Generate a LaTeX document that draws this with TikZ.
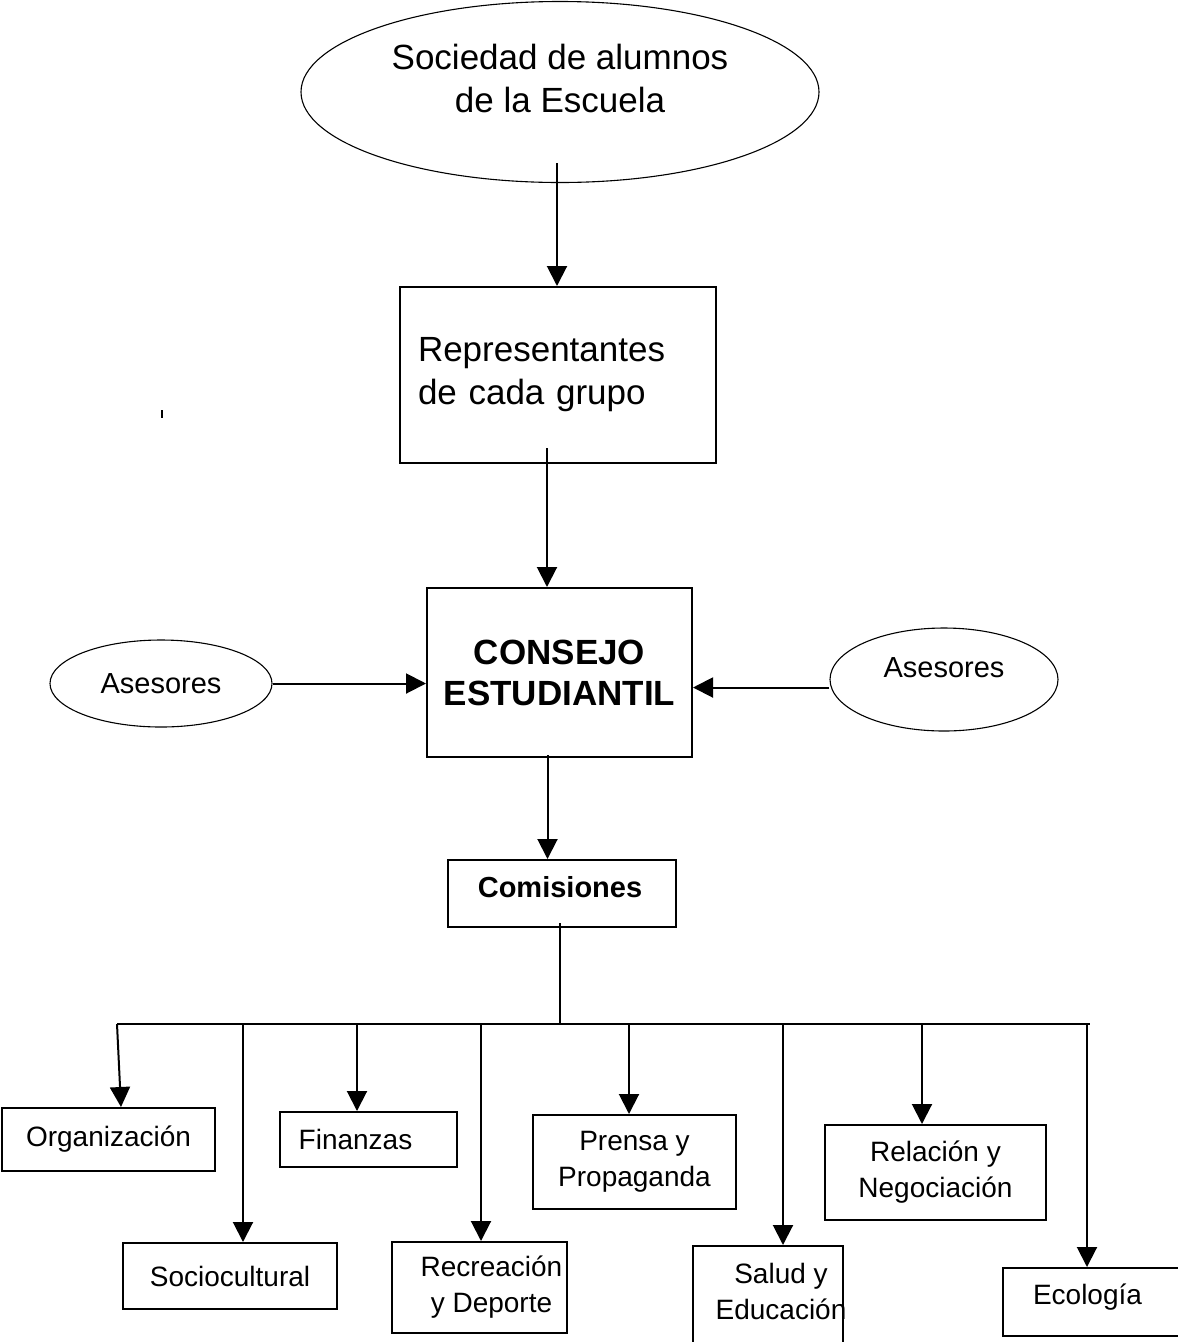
\documentclass[tikz,border=0pt]{standalone}
\usepackage{fontspec}
\setmainfont{Liberation Sans}
\usetikzlibrary{shapes.geometric,arrows.meta,positioning}

\newcommand{\letragrande}{\fontsize{35}{43}\selectfont}
\newcommand{\letranegra}{\bfseries\fontsize{35}{41}\selectfont}
\newcommand{\letramedia}{\fontsize{29}{36}\selectfont}
\newcommand{\letrachica}{\fontsize{28}{36}\selectfont}

\begin{document}
\begin{tikzpicture}[x=1pt,y=-1pt]
		\tikzstyle{caja}=[rectangle, draw=black, line width=2pt, inner sep=0pt, align=center, font=\letrachica]
		\tikzstyle{elipse}=[ellipse, draw=black, line width=1.1pt, inner sep=0pt]
		\tikzstyle{connect}=[-{Triangle[length=20pt,width=20pt]}, line width=2pt]
		\tikzstyle{line}=[line width=2pt]
		\useasboundingbox (0,0) rectangle (1178,1342);
		
		\node[elipse, minimum width=518pt, minimum height=181pt, label={[align=center, font=\letragrande, yshift=14pt]center:Sociedad de alumnos\\de la Escuela}] (sociedad) at (560,92) {};
		\node[caja, minimum width=316pt, minimum height=176pt, text width=280pt, align=left, font=\letragrande] (representantes) at (558,375) {Representantes\\de cada grupo};
		\node[caja, minimum width=265pt, minimum height=169pt, font=\letranegra] (consejo) at (559.5,672.5) {CONSEJO\\ESTUDIANTIL};
		
		\node[elipse, minimum width=222pt, minimum height=87pt, font=\letramedia] (asesorizq) at (161,683.5) {Asesores};
		\node[elipse, minimum width=228pt, minimum height=103pt, label={[font=\letramedia, yshift=12pt]center:Asesores}] (asesorder) at (944,679.5) {};
		
		\node[caja, minimum width=228pt, minimum height=67pt, label={[font=\bfseries\letramedia, xshift=-2pt, yshift=6pt]center:Comisiones}] (comisiones) at (562,893.5) {};
		
		% comisiones
		\node[caja, minimum width=213pt, minimum height=63pt] (org) at (108.5,1139.5) {Organización};
		\node[caja, minimum width=214pt, minimum height=66pt] (socio) at (230,1276) {Sociocultural};
		\node[caja, minimum width=177pt, minimum height=55pt, label={[font=\letrachica, xshift=-13pt]center:Finanzas}] (fin) at (368.5,1139.5) {};
		\node[caja, minimum width=175pt, minimum height=91pt, label={[align=center, font=\letrachica, xshift=12pt]center:Recreación\\y Deporte}] (rec) at (479.5,1287.5) {};
		\node[caja, minimum width=203pt, minimum height=94pt] (pren) at (634.5,1162) {Prensa y\\Propaganda};
		\node[caja, minimum width=150pt, minimum height=120pt, label={[align=center, font=\letrachica, xshift=13pt, yshift=15pt]center:Salud y\\Educación}] (salud) at (768,1306) {};
		\node[caja, minimum width=221pt, minimum height=95pt] (rel) at (935.5,1172.5) {Relación y\\Negociación};
		\node[caja, minimum width=187pt, minimum height=68pt, label={[font=\letrachica, xshift=-9pt, yshift=5pt]center:Ecología}] (eco) at (1096.5,1302) {};
		
		\coordinate (s1) at ([xshift=-3pt,yshift=20pt]sociedad.south);
		\coordinate (r1) at ([xshift=-11pt,yshift=16pt]representantes.south);
		\coordinate (c1) at ([xshift=-12pt,yshift=3pt]consejo.south);
		\coordinate (a1) at ([yshift=-8pt]asesorder.west);
		\coordinate (bus) at (560,1024);
		\coordinate (busizq) at (117,1024);
		\coordinate (busder) at (1090,1024);
		
		\path (s1) edge [connect] (s1 |- representantes.north);
		\path (r1) edge [connect] (r1 |- consejo.north);
		\path (asesorizq.east) edge [connect] (asesorizq.east -| consejo.west);
		\path (a1) edge [connect] (a1 -| consejo.east);
		\path (c1) edge [connect] (c1 |- comisiones.north);
		
		\draw[line] ([yshift=5pt]comisiones.south -| bus) -- (bus);
		\draw[line] (busizq) -- (busder);
		\foreach \n/\a/\b in {org/117/121, socio/243/243, fin/357/357, rec/481/481, pren/629/629, salud/783/783, rel/922/922, eco/1087/1087}{
			\coordinate (d-\n) at (\a,1024);
			\coordinate (t-\n) at (\b,1024);
			\draw[connect] (d-\n) -- (t-\n |- \n.north);
		}
		
		\draw[line width=2pt] (161.5,410) -- (161.5,418);

	\end{tikzpicture}
\end{document}
